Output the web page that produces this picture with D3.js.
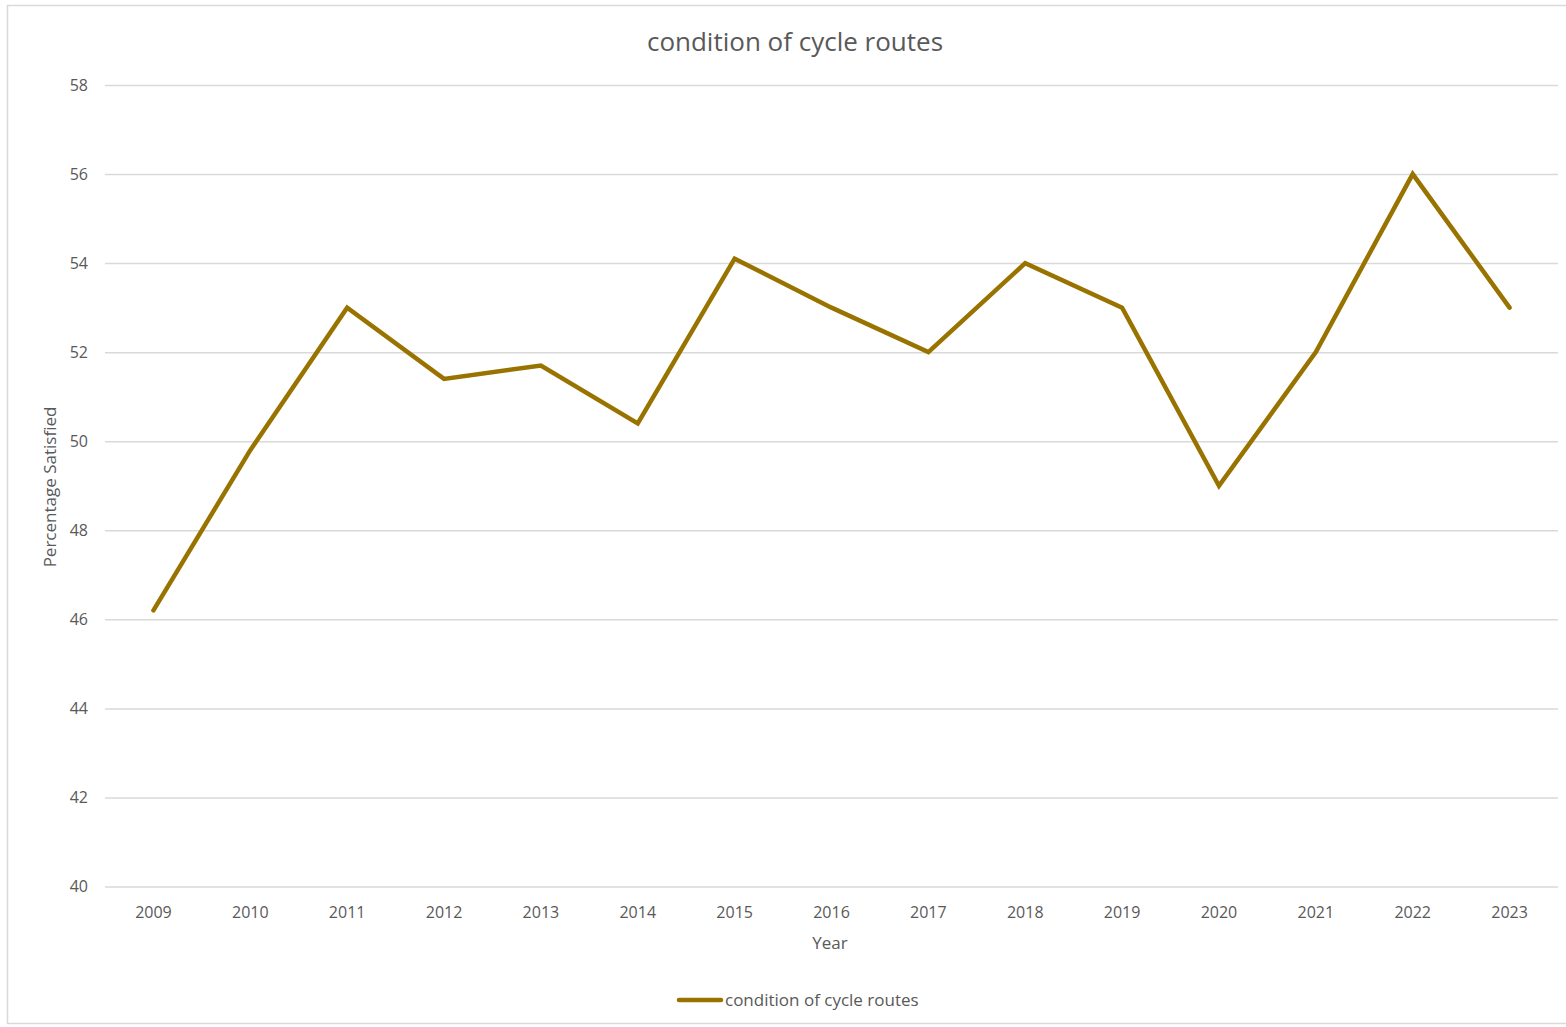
<!DOCTYPE html>
<html>
<head>
<meta charset="utf-8">
<script src="https://cdn.jsdelivr.net/npm/d3@7"></script>
<style>
  body { margin: 0; background: #fff; }
  svg { display: block; font-family: "Open Sans", sans-serif; }
</style>
</head>
<body>
<div id="chart"></div>
<script>
// data
const years = ["2009", "2010", "2011", "2012", "2013", "2014", "2015", "2016",
               "2017", "2018", "2019", "2020", "2021", "2022", "2023"];
const satisfied = [46.2, 49.8, 53, 51.4, 51.7, 50.4, 54.1, 53, 52, 54, 53, 49, 52, 56, 53];
const yTicks = [40, 42, 44, 46, 48, 50, 52, 54, 56, 58];
const seriesName = "condition of cycle routes";

const width = 1566;
const height = 1027;
const marginTop = 85;
const marginRight = 8;
const marginBottom = 140;
const marginLeft = 105;

const lineColor = "#997300";
const textColor = "#595959";
const font = "'Open Sans', sans-serif";

const svg = d3.select("#chart").append("svg")
    .attr("width", width)
    .attr("height", height);

// outer chart border
svg.append("rect")
    .attr("x", 7.5).attr("y", 5.5)
    .attr("width", width).attr("height", 1018)
    .attr("fill", "none")
    .attr("stroke", "#d9d9d9")
    .attr("stroke-width", 1.5);

const x = d3.scaleBand()
    .domain(years)
    .range([marginLeft, width - marginRight]);

const y = d3.scaleLinear()
    .domain([40, 58])
    .range([height - marginBottom - 0.5, marginTop]);

// gridlines + y labels
svg.append("g")
    .attr("transform", `translate(${marginLeft},0)`)
    .call(d3.axisLeft(y).tickValues(yTicks).tickSize(0).tickPadding(17))
    .attr("font-family", font)
    .call(g => g.select(".domain").remove())
    .call(g => g.selectAll(".tick line").clone()
        .attr("stroke", "#d9d9d9")
        .attr("stroke-width", 1.5)
        .attr("x2", width - marginLeft - marginRight))
    .call(g => g.selectAll(".tick text")
        .attr("fill", textColor)
        .style("font-size", "16px"));

// x labels
svg.append("g")
    .attr("transform", `translate(0,${y(40)})`)
    .call(d3.axisBottom(x).tickSize(0).tickPadding(20))
    .attr("font-family", font)
    .call(g => g.select(".domain").remove())
    .call(g => g.selectAll(".tick text")
        .attr("fill", textColor)
        .style("font-size", "16px"));

// the series
const line = d3.line()
    .x((d, i) => x(years[i]) + x.bandwidth() / 2)
    .y(d => y(d));

svg.append("path")
    .datum(satisfied)
    .attr("fill", "none")
    .attr("stroke", lineColor)
    .attr("stroke-width", 4.5)
    .attr("stroke-linejoin", "miter")
    .attr("stroke-linecap", "round")
    .attr("d", line);

// title
svg.append("text")
    .attr("x", 795).attr("y", 51)
    .attr("text-anchor", "middle")
    .attr("fill", textColor)
    .style("font-size", "26px")
    .text(seriesName);

// axis titles
svg.append("text")
    .attr("x", 830).attr("y", 949)
    .attr("text-anchor", "middle")
    .attr("fill", textColor)
    .style("font-size", "17px")
    .text("Year");

svg.append("text")
    .attr("transform", "translate(56,487) rotate(-90)")
    .attr("text-anchor", "middle")
    .attr("fill", textColor)
    .style("font-size", "17px")
    .text("Percentage Satisfied");

// legend
const legend = svg.append("g").attr("transform", "translate(679,1000)");
legend.append("line")
    .attr("x1", 0).attr("x2", 42)
    .attr("stroke", lineColor)
    .attr("stroke-width", 4.5)
    .attr("stroke-linecap", "round");
legend.append("text")
    .attr("x", 46).attr("y", 6)
    .attr("fill", textColor)
    .style("font-size", "17px")
    .text(seriesName);
</script>
</body>
</html>
